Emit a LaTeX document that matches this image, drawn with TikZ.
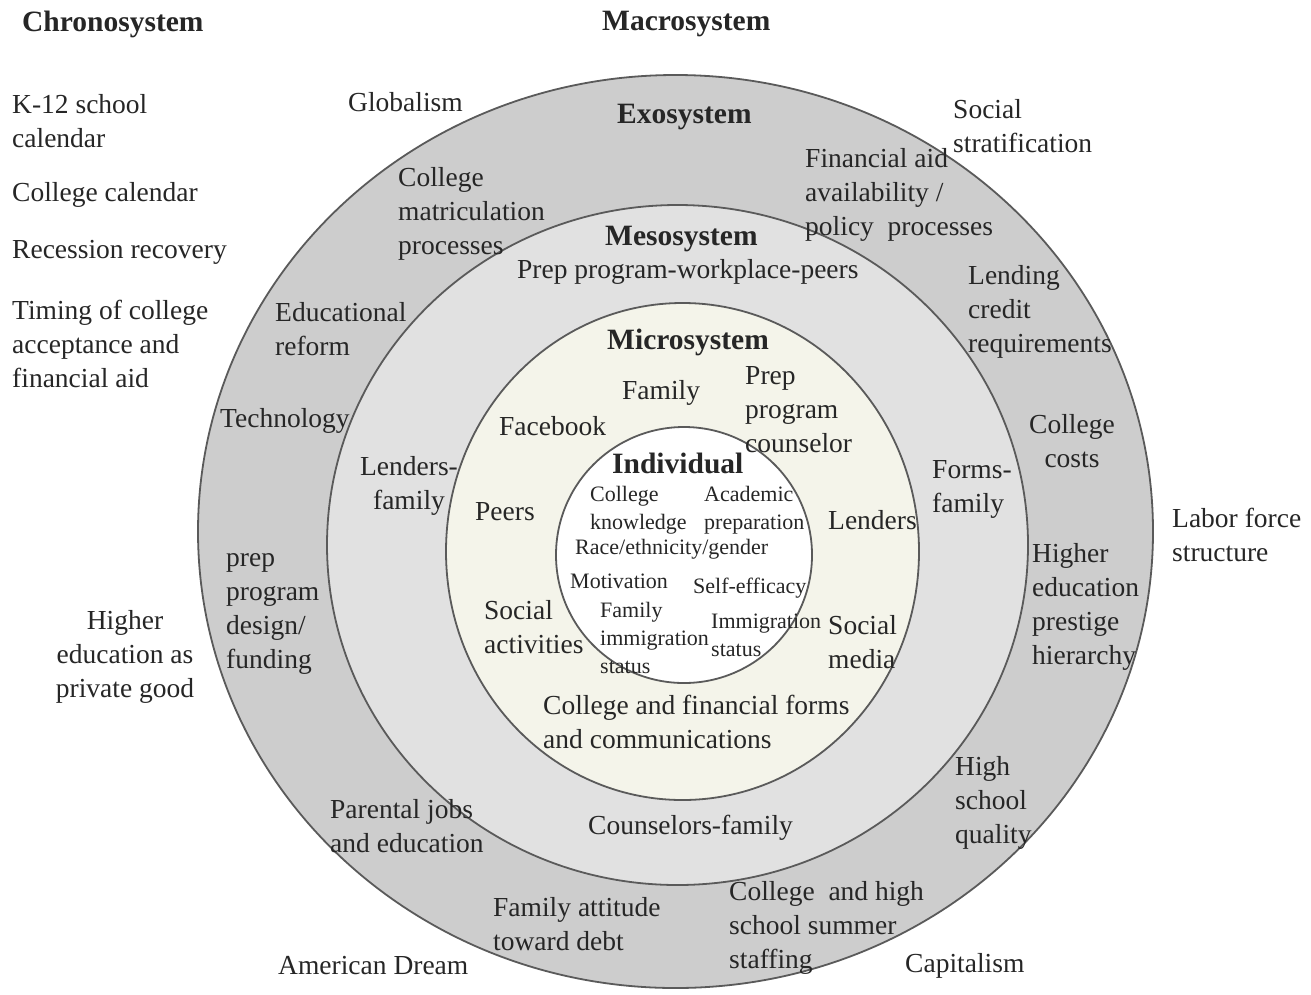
\documentclass[tikz,border=0pt]{standalone}
\usepackage{fontspec}
\setmainfont{Liberation Serif}
\usetikzlibrary{positioning}

\definecolor{ringline}{HTML}{5A5A5A}
\definecolor{macrofill}{HTML}{CDCDCD}
\definecolor{mesofill}{HTML}{E1E1E1}
\definecolor{microfill}{HTML}{F4F4EA}

\begin{document}
\begin{tikzpicture}[x=1pt,y=-1pt,
			ring/.style={draw=ringline,line width=1.8pt},
			txt/.style={inner sep=0pt,anchor=west,align=left,text=black!85,
				font=\fontsize{27.5}{34}\selectfont},
			ctxt/.style={txt,anchor=center,align=center},
			small/.style={txt,font=\fontsize{22}{28}\selectfont},
			head/.style={inner sep=0pt,anchor=west,text=black!85,
				font=\fontsize{29.5}{34}\selectfont\bfseries}]

			\useasboundingbox (0,0) rectangle (1311,994);
			\fill[white] (0,0) rectangle (1311,994);

			\draw[ring,fill=macrofill] (675.5,531.5) ellipse [x radius=477.5pt,y radius=456.5pt];
			\draw[ring,fill=mesofill] (677.5,545) ellipse [x radius=350.5pt,y radius=340pt];
			\draw[ring,fill=microfill] (682.5,551.5) ellipse [x radius=236.5pt,y radius=248.5pt];
			\draw[ring,fill=white] (684,555) circle [radius=128pt];

			% chronosystem
			\node [head] at (22,24) (chrono) {Chronosystem};
			\node [txt] at (12,121) (kcal) {K-12 school\\calendar};
			\node [txt] at (12,195) (colcal) {College calendar};
			\node [txt] at (12,252) (recession) {Recession recovery};
			\node [txt] at (12,344) (timing) {Timing of college\\acceptance and\\financial aid};

			% macrosystem
			\node [head] at (602,24) (macro) {Macrosystem};
			\node [txt] at (348,102) (globalism) {Globalism};
			\node [txt] at (953,126) (socstrat) {Social\\stratification};
			\node [txt] at (1172,535) (labor) {Labor force\\structure};
			\node [ctxt] at (125,657) (privgood) {Higher\\education as\\private good};
			\node [txt] at (278,966) (amdream) {American Dream};
			\node [txt] at (905,966) (capitalism) {Capitalism};

			% exosystem
			\node [head] at (617,117) (exo) {Exosystem};
			\node [txt] at (398,214) (matric) {College\\matriculation\\processes};
			\node [txt] at (805,195) (finaid) {Financial aid\\availability /\\policy\ \ processes};
			\node [txt] at (968,312) (lending) {Lending\\credit\\requirements};
			\node [txt] at (275,329) (edreform) {Educational\\reform};
			\node [txt] at (220,421) (technology) {Technology};
			\node [ctxt] at (1072,441) (colcost) {College\\costs};
			\node [txt] at (226,614) (prepdesign) {prep\\program\\design/\\funding};
			\node [txt] at (1032,607) (prestige) {Higher\\education\\prestige\\hierarchy};
			\node [txt] at (955,803) (hsquality) {High\\school\\quality};
			\node [txt] at (330,826) (parental) {Parental jobs\\and education};
			\node [txt] at (493,924) (debtattitude) {Family attitude\\toward debt};
			\node [txt] at (729,928) (staffing) {College\ \ and high\\school summer\\staffing};

			% mesosystem
			\node [head] at (605,239) (meso) {Mesosystem};
			\node [txt] at (517,272) (prepwork) {Prep program-workplace-peers};
			\node [ctxt] at (409,486) (lendfam) {Lenders-\\family};
			\node [txt] at (932,489) (formsfam) {Forms-\\family};
			\node [txt] at (588,828) (counsfam) {Counselors-family};

			% microsystem
			\node [head] at (607,342) (micro) {Microsystem};
			\node [txt] at (622,393) (family) {Family};
			\node [txt] at (745,410) (prepcouns) {Prep\\program\\counselor};
			\node [txt] at (499,426) (facebook) {Facebook};
			\node [txt] at (475,512) (peers) {Peers};
			\node [txt] at (828,520) (lenders) {Lenders};
			\node [txt] at (484,627) (socact) {Social\\activities};
			\node [txt] at (828,642) (socmedia) {Social\\media};
			\node [txt] at (543,722) (forms) {College and financial forms\\and communications};

			% individual
			\node [head] at (612,463) (indiv) {Individual};
			\node [small] at (590,510) (colknow) {College\\knowledge};
			\node [small] at (704,510) (acadprep) {Academic\\preparation};
			\node [small] at (575,549) (race) {Race/ethnicity/gender};
			\node [small] at (570,581) (motivation) {Motivation};
			\node [small] at (693,588) (selfeff) {Self-efficacy};
			\node [small] at (600,638) (famimm) {Family\\immigration\\status};
			\node [small] at (711,635) (immstatus) {Immigration\\status};

		\end{tikzpicture}
\end{document}
